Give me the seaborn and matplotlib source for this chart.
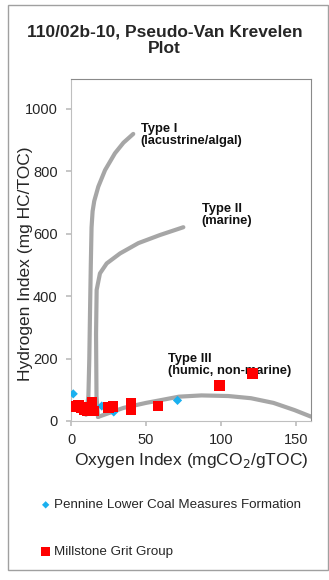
import matplotlib
matplotlib.use("Agg")
import matplotlib.pyplot as plt
import seaborn as sns
import pandas as pd
from matplotlib.patches import Rectangle

sns.set_theme(style="white")
plt.rcParams['font.family'] = ['Liberation Sans', 'DejaVu Sans']

# Data
pennine_oi = [1.5, 20.5, 28.5, 71]
pennine_hi = [87, 48, 29, 66]
millstone_oi = [3, 5, 7, 9, 11, 14, 15, 25, 28, 40, 40, 58, 99, 121]
millstone_hi = [45, 50, 42, 38, 35, 60, 32, 42, 47, 55, 38, 48, 113, 151]

type1_oi = [10, 11.6, 12.2, 12.7, 13.2, 13.7, 14.4, 15.5, 18.2, 22.7, 29.3, 35, 41.5]
type1_hi = [20, 80, 200, 356, 500, 620, 672, 705, 751, 804, 858, 892, 920]
type2_oi = [18, 17, 16.7, 16.7, 17.1, 19.3, 23.8, 32.7, 44.9, 59.3, 74.9]
type2_hi = [13, 80, 200, 356, 420, 473, 505, 537, 570, 596, 621]
type3_oi = [18, 25, 35, 50, 60, 72, 87, 105, 120, 135, 149, 160]
type3_hi = [13, 25, 42, 58, 67, 78, 82, 80, 73, 58, 35, 14]

x_ticks = [0, 50, 100, 150]
y_ticks = [0, 200, 400, 600, 800, 1000]

fig = plt.figure(figsize=(3.29, 5.80), dpi=100)
W, H = 329, 580
ax = fig.add_axes([71 / W, 1 - 421 / H, (311 - 71) / W, (421 - 79) / H])

curve_color = "#a6a6a6"
for xs, ys in [(type1_oi, type1_hi), (type2_oi, type2_hi), (type3_oi, type3_hi)]:
    df = pd.DataFrame({"x": xs, "y": ys})
    sns.lineplot(data=df, x="x", y="y", sort=False, ax=ax, color=curve_color,
                 linewidth=3, solid_capstyle="round", solid_joinstyle="round", zorder=2)

dfp = pd.DataFrame({"OI": pennine_oi, "HI": pennine_hi})
dfm = pd.DataFrame({"OI": millstone_oi, "HI": millstone_hi})
sns.scatterplot(data=dfp, x="OI", y="HI", ax=ax, marker="D", color="#1ab0ef",
                s=22, edgecolor="none", zorder=3, label="Pennine Lower Coal Measures Formation")
sns.scatterplot(data=dfm, x="OI", y="HI", ax=ax, marker="s", color="#ff0000",
                s=62, edgecolor="none", zorder=4, label="Millstone Grit Group")

ax.set_xlim(0, 160)
ax.set_ylim(0, 1096)
ax.set_xticks(x_ticks)
ax.set_yticks(y_ticks)
ax.tick_params(axis="both", labelsize=10.5, length=3.6, color="#bfbfbf", direction="out",
               bottom=True, left=True)
ax.tick_params(axis="x", pad=5)
ax.tick_params(axis="y", pad=6)
for sp in ax.spines.values():
    sp.set_color("#8a8a8a")
    sp.set_linewidth(0.8)
ax.spines["left"].set_color("#bfbfbf")
ax.spines["bottom"].set_color("#bfbfbf")
ax.set_xlabel("Oxygen Index (mgCO$_2$/gTOC)", fontsize=12.5, labelpad=3)
ax.set_ylabel("Hydrogen Index (mg HC/TOC)", fontsize=12.5)
ax.yaxis.set_label_coords((33 - 71) / 240, 0.46)

tkw = dict(fontsize=9.3, fontweight="bold", color="#111111", va="top", ha="left")
ax.text(46.5, 955, "Type I\n(lacustrine/algal)", linespacing=1.0, **tkw)
ax.text(87, 700, "Type II\n(marine)", linespacing=1.0, **tkw)
ax.text(65, 218, "Type III\n(humic, non-marine)", linespacing=1.0, **tkw)

fig.text(0.5, 1 - 40 / H, "110/02b-10, Pseudo-Van Krevelen\nPlot", ha="center", va="center",
         fontsize=12.5, fontweight="bold", linespacing=1.1)

handles, labels = ax.get_legend_handles_labels()
ax.legend_.remove()
fig.legend(handles, labels, loc="upper left", bbox_to_anchor=(27 / W, 1 - 487 / H),
           frameon=False, fontsize=9.6, labelspacing=2.6, handletextpad=0.1,
           handlelength=1.0, markerscale=0.8)

fig.patches.append(Rectangle((8 / W, 1 - 570 / H), (W - 9) / W, (570 - 5) / H,
                             transform=fig.transFigure, fill=False,
                             edgecolor="#a0a0a0", linewidth=1))
fig.savefig("out.png", dpi=100)
